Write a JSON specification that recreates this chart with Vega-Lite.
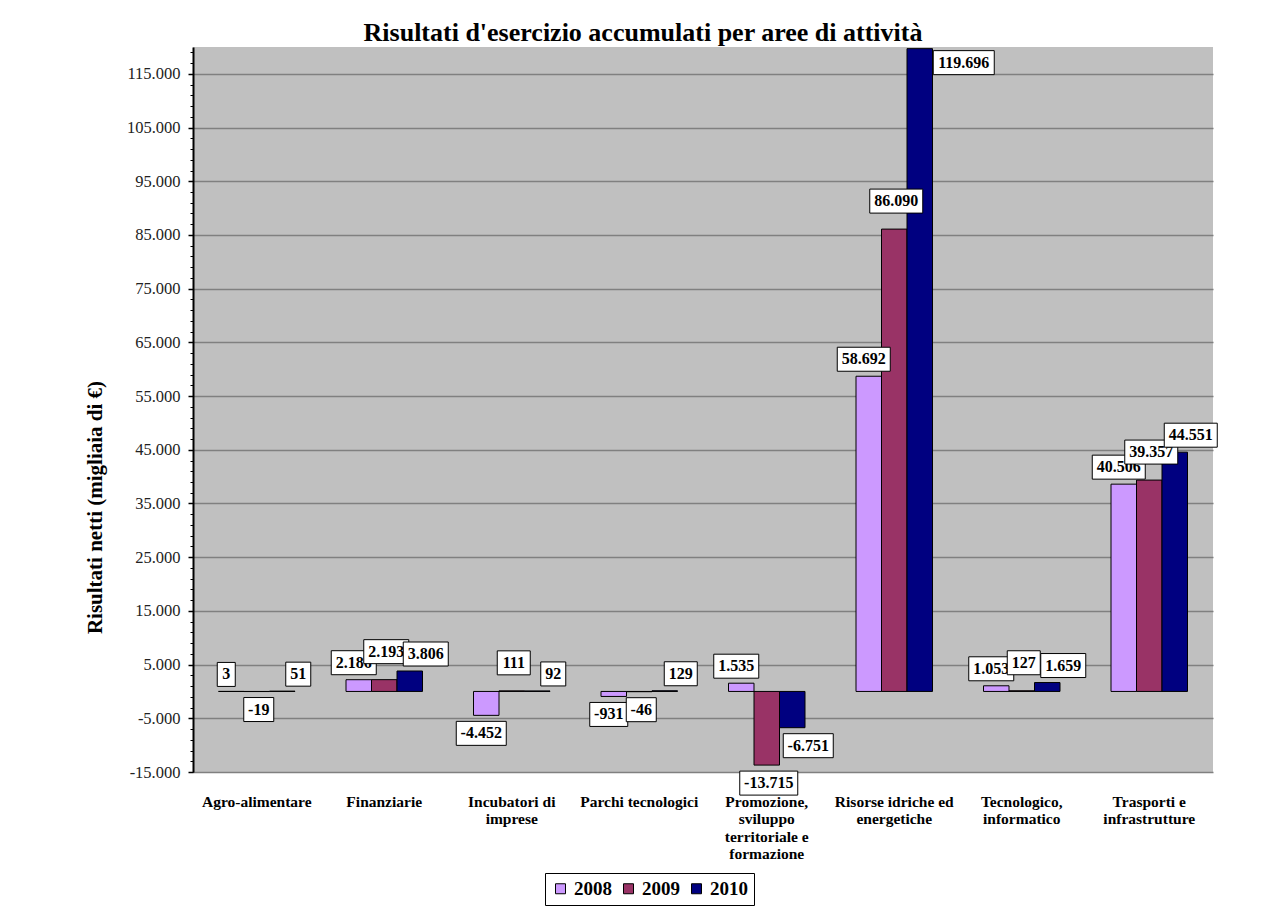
{
  "$schema": "https://vega.github.io/schema/vega-lite/v6.json",
  "width": 1020,
  "height": 725,
  "autosize": {"type": "none"},
  "padding": {"left": 193, "top": 47, "right": 67, "bottom": 140},
  "background": "white",
  "title": {
    "text": "Risultati d'esercizio accumulati per aree di attività",
    "font": "Liberation Serif",
    "fontSize": 26,
    "fontWeight": "bold",
    "color": "black",
    "anchor": "middle",
    "dx": -60,
    "dy": 24,
    "baseline": "alphabetic",
    "offset": 4
  },
  "config": {
    "view": {"fill": "#C0C0C0", "stroke": null},
    "locale": {
      "number": {"decimal": ",", "thousands": ".", "grouping": [3], "currency": ["€", ""], "minus": "-"}
    }
  },
  "data": {
    "values": [
      {"area": "Agro-alimentare", "year": "2008", "value": 3, "label": "3"},
      {"area": "Agro-alimentare", "year": "2009", "value": -19, "label": "-19"},
      {"area": "Agro-alimentare", "year": "2010", "value": 51, "label": "51"},
      {"area": "Finanziarie", "year": "2008", "value": 2186, "label": "2.186"},
      {"area": "Finanziarie", "year": "2009", "value": 2193, "label": "2.193"},
      {"area": "Finanziarie", "year": "2010", "value": 3806, "label": "3.806"},
      {"area": "Incubatori di imprese", "year": "2008", "value": -4452, "label": "-4.452"},
      {"area": "Incubatori di imprese", "year": "2009", "value": 111, "label": "111"},
      {"area": "Incubatori di imprese", "year": "2010", "value": 92, "label": "92"},
      {"area": "Parchi tecnologici", "year": "2008", "value": -931, "label": "-931"},
      {"area": "Parchi tecnologici", "year": "2009", "value": -46, "label": "-46"},
      {"area": "Parchi tecnologici", "year": "2010", "value": 129, "label": "129"},
      {"area": "Promozione, sviluppo territoriale e formazione", "year": "2008", "value": 1535, "label": "1.535"},
      {"area": "Promozione, sviluppo territoriale e formazione", "year": "2009", "value": -13715, "label": "-13.715"},
      {"area": "Promozione, sviluppo territoriale e formazione", "year": "2010", "value": -6751, "label": "-6.751"},
      {"area": "Risorse idriche ed energetiche", "year": "2008", "value": 58692, "label": "58.692"},
      {"area": "Risorse idriche ed energetiche", "year": "2009", "value": 86090, "label": "86.090"},
      {"area": "Risorse idriche ed energetiche", "year": "2010", "value": 119696, "label": "119.696"},
      {"area": "Tecnologico, informatico", "year": "2008", "value": 1053, "label": "1.053"},
      {"area": "Tecnologico, informatico", "year": "2009", "value": 127, "label": "127"},
      {"area": "Tecnologico, informatico", "year": "2010", "value": 1659, "label": "1.659"},
      {"area": "Trasporti e infrastrutture", "year": "2008", "value": 38600, "label": "40.506"},
      {"area": "Trasporti e infrastrutture", "year": "2009", "value": 39357, "label": "39.357"},
      {"area": "Trasporti e infrastrutture", "year": "2010", "value": 44551, "label": "44.551"}
    ]
  },
  "encoding": {
    "x": {
      "field": "area",
      "type": "nominal",
      "sort": null,
      "scale": {"paddingInner": 0.4, "paddingOuter": 0.2},
      "axis": {
        "title": null,
        "ticks": false,
        "domain": false,
        "grid": false,
        "labelAngle": 0,
        "labelFont": "Liberation Serif",
        "labelFontWeight": "bold",
        "labelFontSize": 15.5,
        "labelColor": "black",
        "labelPadding": 22,
        "labelLineHeight": 17.5,
        "labelBaseline": "top",
        "labelLimit": 0,
        "labelExpr": "datum.value == 'Incubatori di imprese' ? ['Incubatori di', 'imprese'] : datum.value == 'Promozione, sviluppo territoriale e formazione' ? ['Promozione,', 'sviluppo', 'territoriale e', 'formazione'] : datum.value == 'Risorse idriche ed energetiche' ? ['Risorse idriche ed', 'energetiche'] : datum.value == 'Tecnologico, informatico' ? ['Tecnologico,', 'informatico'] : datum.value == 'Trasporti e infrastrutture' ? ['Trasporti e', 'infrastrutture'] : datum.label"
      }
    },
    "xOffset": {"field": "year", "type": "nominal", "sort": ["2008", "2009", "2010"]},
    "y": {
      "field": "value",
      "type": "quantitative",
      "scale": {"domain": [-15000, 120000], "nice": false, "zero": false},
      "axis": null
    }
  },
  "layer": [
    {
      "mark": {"type": "bar", "stroke": "black", "strokeWidth": 1},
      "encoding": {
        "color": {
          "field": "year",
          "type": "nominal",
          "scale": {"domain": ["2008", "2009", "2010"], "range": ["#CC99FF", "#993366", "#000080"]},
          "legend": {
            "title": null,
            "orient": "none",
            "legendX": 352,
            "legendY": 826,
            "direction": "horizontal",
            "symbolType": "square",
            "symbolSize": 100,
            "symbolStrokeColor": "black",
            "symbolStrokeWidth": 1,
            "labelFont": "Liberation Serif",
            "labelFontSize": 19,
            "labelFontWeight": "bold",
            "labelColor": "black",
            "labelOffset": 4,
            "columnPadding": 7,
            "padding": 6,
            "strokeColor": "black",
            "fillColor": "white"
          }
        },
        "y": {
          "field": "value",
          "type": "quantitative",
          "scale": {"domain": [-15000, 120000], "nice": false, "zero": false},
          "axis": {
            "title": "Risultati netti (migliaia di €)",
            "orient": "left",
            "values": [-15000, -5000, 5000, 15000, 25000, 35000, 45000, 55000, 65000, 75000, 85000, 95000, 105000, 115000],
            "format": ",d",
            "grid": true,
            "gridColor": "#808080",
            "gridWidth": 1.5,
            "domain": true,
            "domainColor": "black",
            "domainWidth": 2,
            "ticks": true,
            "tickColor": "black",
            "tickSize": 5,
            "tickWidth": 1.5,
            "labelFont": "Liberation Serif",
            "labelFontSize": 16.5,
            "labelColor": "#222222",
            "labelPadding": 8,
            "titleFont": "Liberation Serif",
            "titleFontSize": 21,
            "titleFontWeight": "bold",
            "titleColor": "black",
            "titleAngle": 270,
            "titleX": -98,
            "titleY": 460,
            "titleAlign": "center",
            "titleBaseline": "middle"
          }
        }
      }
    },
    {
      "transform": [{"filter": "datum.year == '2008'"}],
      "mark": {"type": "point", "filled": true, "fill": "white", "stroke": "black", "strokeWidth": 1, "size": 4, "opacity": 1},
      "encoding": {
        "shape": {
          "field": "label",
          "type": "nominal",
          "legend": null,
          "scale": {
            "domain": ["3", "-19", "51", "2.186", "2.193", "3.806", "-4.452", "111", "92", "-931", "-46", "129", "1.535", "-13.715", "-6.751", "58.692", "86.090", "119.696", "1.053", "127", "1.659", "40.506", "39.357", "44.551"],
            "range": [
              "M-14,-29H4V-5H-14Z",
              "M-13,6H17V30H-13Z",
              "M3.5,-29H28.5V-5H3.5Z",
              "M-27.5,-29H17.5V-5H-27.5Z",
              "M-20.5,-40H24.5V-16H-20.5Z",
              "M-6.5,-29H38.5V-5H-6.5Z",
              "M-30,6H20V30H-30Z",
              "M-14.5,-40H18.5V-16H-14.5Z",
              "M3.5,-29H28.5V-5H3.5Z",
              "M-24,6H14V30H-24Z",
              "M-13,6H17V30H-13Z",
              "M-0.5,-29H32.5V-5H-0.5Z",
              "M-27.5,-29H17.5V-5H-27.5Z",
              "M-27,6H31V30H-27Z",
              "M-9,6H41V30H-9Z",
              "M-31.5,-29H21.5V-5H-31.5Z",
              "M-24.5,-40H28.5V-16H-24.5Z",
              "M13.5,2H74.5V26H13.5Z",
              "M-27.5,-29H17.5V-5H-27.5Z",
              "M-14.5,-40H18.5V-16H-14.5Z",
              "M-6.5,-29H38.5V-5H-6.5Z",
              "M-31.5,-29H21.5V-5H-31.5Z",
              "M-24.5,-40H28.5V-16H-24.5Z",
              "M-10.5,-29H42.5V-5H-10.5Z"
            ]
          }
        },
        "y": {
          "field": "value",
          "type": "quantitative",
          "scale": {"domain": [-15000, 120000], "nice": false, "zero": false},
          "axis": {
            "title": null,
            "orient": "left",
            "values": [-15000, -13000, -11000, -9000, -7000, -5000, -3000, -1000, 1000, 3000, 5000, 7000, 9000, 11000, 13000, 15000, 17000, 19000, 21000, 23000, 25000, 27000, 29000, 31000, 33000, 35000, 37000, 39000, 41000, 43000, 45000, 47000, 49000, 51000, 53000, 55000, 57000, 59000, 61000, 63000, 65000, 67000, 69000, 71000, 73000, 75000, 77000, 79000, 81000, 83000, 85000, 87000, 89000, 91000, 93000, 95000, 97000, 99000, 101000, 103000, 105000, 107000, 109000, 111000, 113000, 115000, 117000, 119000],
            "labels": false,
            "grid": false,
            "domain": false,
            "ticks": true,
            "tickColor": "black",
            "tickSize": 3,
            "tickWidth": 1
          }
        }
      }
    },
    {
      "transform": [{"filter": "datum.year == '2008' && datum.value >= 0"}],
      "mark": {"type": "text", "dx": -5, "dy": -17, "align": "center", "baseline": "middle", "font": "Liberation Serif", "fontWeight": "bold", "fontSize": 16, "color": "black"},
      "encoding": {"text": {"field": "label", "type": "nominal"}}
    },
    {
      "transform": [{"filter": "datum.year == '2008' && datum.value < 0"}],
      "mark": {"type": "text", "dx": -5, "dy": 18, "align": "center", "baseline": "middle", "font": "Liberation Serif", "fontWeight": "bold", "fontSize": 16, "color": "black"},
      "encoding": {"text": {"field": "label", "type": "nominal"}}
    },
    {
      "transform": [{"filter": "datum.year == '2009'"}],
      "mark": {"type": "point", "filled": true, "fill": "white", "stroke": "black", "strokeWidth": 1, "size": 4, "opacity": 1},
      "encoding": {"shape": {"field": "label", "type": "nominal", "legend": null}}
    },
    {
      "transform": [{"filter": "datum.year == '2009' && datum.value >= 0"}],
      "mark": {"type": "text", "dx": 2, "dy": -28, "align": "center", "baseline": "middle", "font": "Liberation Serif", "fontWeight": "bold", "fontSize": 16, "color": "black"},
      "encoding": {"text": {"field": "label", "type": "nominal"}}
    },
    {
      "transform": [{"filter": "datum.year == '2009' && datum.value < 0"}],
      "mark": {"type": "text", "dx": 2, "dy": 18, "align": "center", "baseline": "middle", "font": "Liberation Serif", "fontWeight": "bold", "fontSize": 16, "color": "black"},
      "encoding": {"text": {"field": "label", "type": "nominal"}}
    },
    {
      "transform": [{"filter": "datum.year == '2010'"}],
      "mark": {"type": "point", "filled": true, "fill": "white", "stroke": "black", "strokeWidth": 1, "size": 4, "opacity": 1},
      "encoding": {"shape": {"field": "label", "type": "nominal", "legend": null}}
    },
    {
      "transform": [{"filter": "datum.year == '2010' && datum.value >= 0 && datum.value < 100000"}],
      "mark": {"type": "text", "dx": 16, "dy": -17, "align": "center", "baseline": "middle", "font": "Liberation Serif", "fontWeight": "bold", "fontSize": 16, "color": "black"},
      "encoding": {"text": {"field": "label", "type": "nominal"}}
    },
    {
      "transform": [{"filter": "datum.year == '2010' && datum.value < 0"}],
      "mark": {"type": "text", "dx": 16, "dy": 18, "align": "center", "baseline": "middle", "font": "Liberation Serif", "fontWeight": "bold", "fontSize": 16, "color": "black"},
      "encoding": {"text": {"field": "label", "type": "nominal"}}
    },
    {
      "transform": [{"filter": "datum.year == '2010' && datum.value >= 100000"}],
      "mark": {"type": "text", "dx": 44, "dy": 14, "align": "center", "baseline": "middle", "font": "Liberation Serif", "fontWeight": "bold", "fontSize": 16, "color": "black"},
      "encoding": {"text": {"field": "label", "type": "nominal"}}
    }
  ],
  "resolve": {"axis": {"y": "independent"}}
}
